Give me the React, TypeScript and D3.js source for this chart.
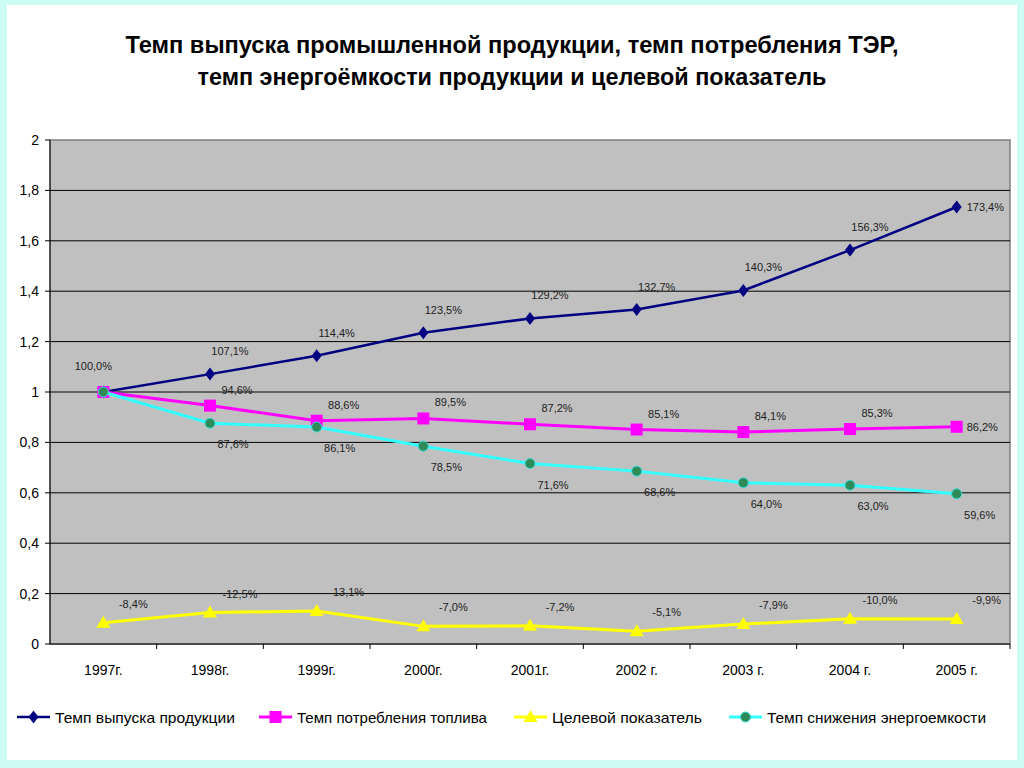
import React from "react";
import * as d3 from "d3";

const years = ["1997г.", "1998г.", "1999г.", "2000г.", "2001г.", "2002 г.", "2003 г.", "2004 г.", "2005 г."];
const production = [1.0, 1.071, 1.144, 1.235, 1.292, 1.327, 1.403, 1.563, 1.734];
const productionLabels = ["100,0%", "107,1%", "114,4%", "123,5%", "129,2%", "132,7%", "140,3%", "156,3%", "173,4%"];
const fuel = [1.0, 0.946, 0.886, 0.895, 0.872, 0.851, 0.841, 0.853, 0.862];
const fuelLabels = ["", "94,6%", "88,6%", "89,5%", "87,2%", "85,1%", "84,1%", "85,3%", "86,2%"];
const target = [0.084, 0.125, 0.131, 0.07, 0.072, 0.051, 0.079, 0.1, 0.099];
const targetLabels = ["-8,4%", "-12,5%", "-13,1%", "-7,0%", "-7,2%", "-5,1%", "-7,9%", "-10,0%", "-9,9%"];
const energy = [1.0, 0.876, 0.861, 0.785, 0.716, 0.686, 0.64, 0.63, 0.596];
const energyLabels = ["", "87,6%", "86,1%", "78,5%", "71,6%", "68,6%", "64,0%", "63,0%", "59,6%"];
const yTicks = [0, 0.2, 0.4, 0.6, 0.8, 1, 1.2, 1.4, 1.6, 1.8, 2];
const legendNames = ["Темп выпуска продукции", "Темп потребления топлива", "Целевой показатель", "Темп снижения энергоемкости"];

const L = 50, R = 1010, T = 140, B = 644;
const x = d3.scalePoint<string>().domain(years).range([L, R]).padding(0.5);
const y = d3.scaleLinear().domain([0, 2]).range([B, T]);
const step = x.step();
const line = d3.line<number>().x((_, i) => x(years[i])!).y((d) => y(d));

const fmt = (v: number) => String(v).replace(".", ",");

function Marker({ kind, cx, cy }: { kind: string; cx: number; cy: number }) {
  if (kind === "diamond") {
    return <path d={`M${cx},${cy - 6.5}L${cx + 5},${cy}L${cx},${cy + 6.5}L${cx - 5},${cy}Z`} fill="#000080" />;
  }
  if (kind === "square") {
    return <rect x={cx - 6} y={cy - 6} width={12} height={12} fill="#ff00ff" />;
  }
  if (kind === "triangle") {
    return <path d={`M${cx},${cy - 7}L${cx + 7},${cy + 5}L${cx - 7},${cy + 5}Z`} fill="#ffff00" />;
  }
  return <circle cx={cx} cy={cy} r={5} fill="#2e8b57" stroke="#33dddd" strokeWidth={1} />;
}

const series = [
  { name: legendNames[0], data: production, labels: productionLabels, color: "#000080", width: 2.5, marker: "diamond", dx: 20, dy: -19 },
  { name: legendNames[1], data: fuel, labels: fuelLabels, color: "#ff00ff", width: 3, marker: "square", dx: 27, dy: -12 },
  { name: legendNames[2], data: target, labels: targetLabels, color: "#ffff00", width: 3, marker: "triangle", dx: 30, dy: -15 },
  { name: legendNames[3], data: energy, labels: energyLabels, color: "#33ffff", width: 3, marker: "circle", dx: 23, dy: 25 },
];

const legendX = [17, 259, 514, 729];
const legendW = [180, 190, 150, 219];

export default function App() {
  return (
    <svg width={1024} height={768} style={{ position: "absolute", left: 0, top: 0, fontFamily: "'Liberation Sans', Arial, sans-serif" }}>
      <rect x={0} y={0} width={1024} height={768} fill="#cdfcf5" />
      <rect x={7} y={5} width={1010} height={755} fill="#ffffff" />
      <text x={512} y={53} textAnchor="middle" fontWeight="bold" fontSize={24} fill="#000" textLength={773} lengthAdjust="spacingAndGlyphs">
        Темп выпуска промышленной продукции, темп потребления ТЭР,
      </text>
      <text x={512} y={85} textAnchor="middle" fontWeight="bold" fontSize={24} fill="#000" textLength={629} lengthAdjust="spacingAndGlyphs">
        темп энергоёмкости продукции и целевой показатель
      </text>

      <rect x={L} y={T} width={R - L} height={B - T} fill="#c0c0c0" stroke="#808080" strokeWidth={1.5} />
      {yTicks.filter((t) => t > 0 && t < 2).map((t) => (
        <line key={t} x1={L} x2={R} y1={y(t)} y2={y(t)} stroke="#000" strokeWidth={1} />
      ))}
      <line x1={L} x2={L} y1={T} y2={B} stroke="#000" />
      <line x1={L} x2={R} y1={B} y2={B} stroke="#000" />
      {yTicks.map((t) => (
        <g key={"yt" + t}>
          <line x1={L - 5} x2={L} y1={y(t)} y2={y(t)} stroke="#000" />
          <text x={L - 11} y={y(t) + 5} textAnchor="end" fontSize={14} fill="#000">{fmt(t)}</text>
        </g>
      ))}
      {years.map((yr) => (
        <g key={yr}>
          <line x1={x(yr)! + step / 2} x2={x(yr)! + step / 2} y1={B} y2={B + 5} stroke="#000" />
          <text x={x(yr)!} y={675} textAnchor="middle" fontSize={14} fill="#000">{yr}</text>
        </g>
      ))}

      {series.map((s) => (
        <g key={s.name}>
          <path d={line(s.data) || ""} fill="none" stroke={s.color} strokeWidth={s.width} />
          {s.data.map((v, i) => (
            <Marker key={i} kind={s.marker} cx={x(years[i])!} cy={y(v)} />
          ))}
        </g>
      ))}
      {series.map((s, si) =>
        s.labels.map((lab, i) => {
          if (!lab) return null;
          const cx = x(years[i])!;
          const cy = y(s.data[i]);
          const last = i === years.length - 1;
          if (si === 0 && i === 0) {
            return <text key={si + "-" + i} x={cx - 10} y={cy - 22} textAnchor="middle" fontSize={11} fill="#222">{lab}</text>;
          }
          if (last && (si === 0 || si === 1)) {
            return <text key={si + "-" + i} x={cx + 10} y={cy + 4} textAnchor="start" fontSize={11} fill="#222">{lab}</text>;
          }
          return <text key={si + "-" + i} x={cx + s.dx} y={cy + s.dy} textAnchor="middle" fontSize={11} fill="#222">{lab}</text>;
        })
      )}

      {series.map((s, i) => (
        <g key={"lg" + i}>
          <line x1={legendX[i]} x2={legendX[i] + 33} y1={717} y2={717} stroke={s.color} strokeWidth={s.width} />
          <Marker kind={s.marker} cx={legendX[i] + 16.5} cy={717} />
          <text x={legendX[i] + 38} y={723} fontSize={15} fill="#000" textLength={legendW[i]} lengthAdjust="spacingAndGlyphs">{s.name}</text>
        </g>
      ))}
    </svg>
  );
}
